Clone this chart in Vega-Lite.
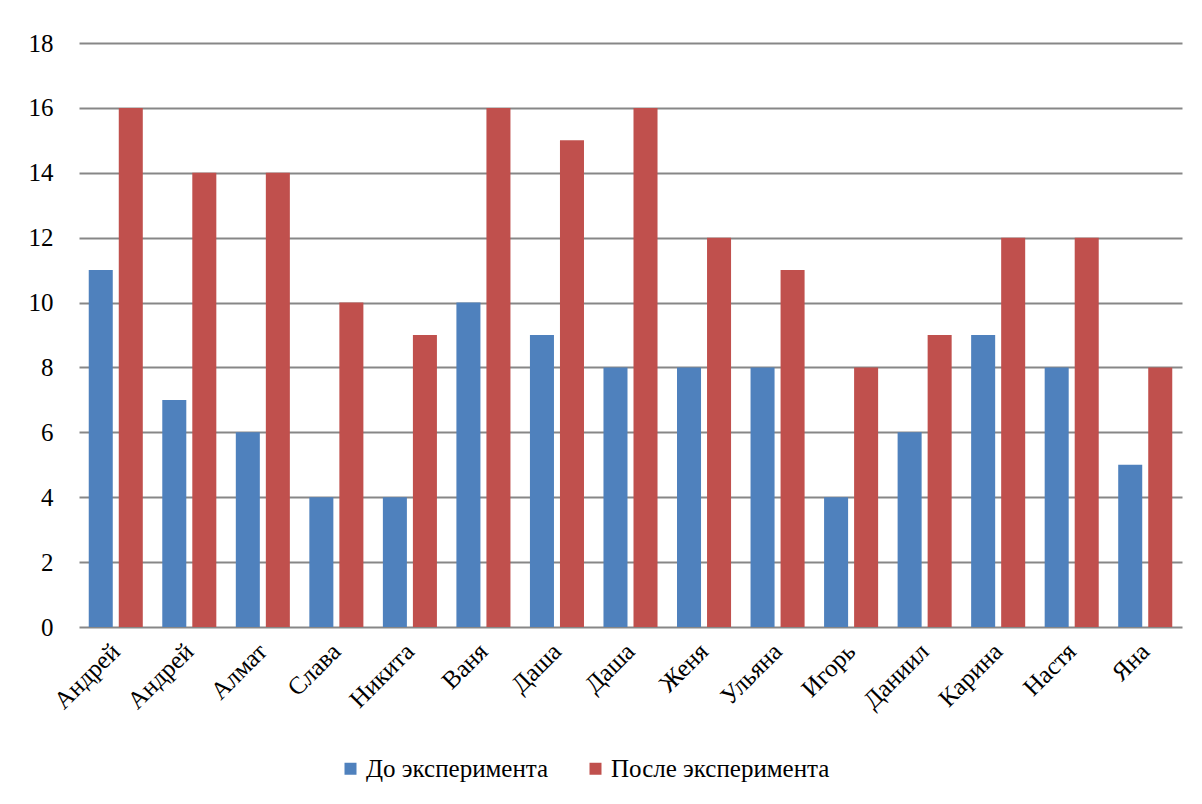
{
  "$schema": "https://vega.github.io/schema/vega-lite/v6.json",
  "autosize": "none",
  "width": 1103,
  "height": 584,
  "padding": {"left": 79, "top": 43, "right": 20, "bottom": 177},
  "background": "white",
  "config": {
    "view": {"stroke": null},
    "font": "Liberation Serif",
    "axis": {"labelFont": "Liberation Serif", "labelFontSize": 25},
    "legend": {"labelFont": "Liberation Serif", "labelFontSize": 25}
  },
  "data": {
    "values": [
      {"n": 1, "name": "Андрей", "series": "До эксперимента", "value": 11},
      {"n": 1, "name": "Андрей", "series": "После эксперимента", "value": 16},
      {"n": 2, "name": "Андрей", "series": "До эксперимента", "value": 7},
      {"n": 2, "name": "Андрей", "series": "После эксперимента", "value": 14},
      {"n": 3, "name": "Алмат", "series": "До эксперимента", "value": 6},
      {"n": 3, "name": "Алмат", "series": "После эксперимента", "value": 14},
      {"n": 4, "name": "Слава", "series": "До эксперимента", "value": 4},
      {"n": 4, "name": "Слава", "series": "После эксперимента", "value": 10},
      {"n": 5, "name": "Никита", "series": "До эксперимента", "value": 4},
      {"n": 5, "name": "Никита", "series": "После эксперимента", "value": 9},
      {"n": 6, "name": "Ваня", "series": "До эксперимента", "value": 10},
      {"n": 6, "name": "Ваня", "series": "После эксперимента", "value": 16},
      {"n": 7, "name": "Даша", "series": "До эксперимента", "value": 9},
      {"n": 7, "name": "Даша", "series": "После эксперимента", "value": 15},
      {"n": 8, "name": "Даша", "series": "До эксперимента", "value": 8},
      {"n": 8, "name": "Даша", "series": "После эксперимента", "value": 16},
      {"n": 9, "name": "Женя", "series": "До эксперимента", "value": 8},
      {"n": 9, "name": "Женя", "series": "После эксперимента", "value": 12},
      {"n": 10, "name": "Ульяна", "series": "До эксперимента", "value": 8},
      {"n": 10, "name": "Ульяна", "series": "После эксперимента", "value": 11},
      {"n": 11, "name": "Игорь", "series": "До эксперимента", "value": 4},
      {"n": 11, "name": "Игорь", "series": "После эксперимента", "value": 8},
      {"n": 12, "name": "Даниил", "series": "До эксперимента", "value": 6},
      {"n": 12, "name": "Даниил", "series": "После эксперимента", "value": 9},
      {"n": 13, "name": "Карина", "series": "До эксперимента", "value": 9},
      {"n": 13, "name": "Карина", "series": "После эксперимента", "value": 12},
      {"n": 14, "name": "Настя", "series": "До эксперимента", "value": 8},
      {"n": 14, "name": "Настя", "series": "После эксперимента", "value": 12},
      {"n": 15, "name": "Яна", "series": "До эксперимента", "value": 5},
      {"n": 15, "name": "Яна", "series": "После эксперимента", "value": 8}
    ]
  },
  "mark": {"type": "bar"},
  "encoding": {
    "x": {
      "field": "n",
      "type": "ordinal",
      "scale": {"paddingInner": 0.265, "paddingOuter": 0.1325},
      "axis": {
        "title": null,
        "labelExpr": "['Андрей','Андрей','Алмат','Слава','Никита','Ваня','Даша','Даша','Женя','Ульяна','Игорь','Даниил','Карина','Настя','Яна'][datum.value - 1]",
        "labelAngle": -45,
        "labelAlign": "right",
        "labelBaseline": "middle",
        "labelColor": "black",
        "labelPadding": 20,
        "labelOverlap": false,
        "ticks": false,
        "domain": false
      }
    },
    "xOffset": {
      "field": "series",
      "type": "nominal",
      "scale": {"paddingInner": 0.2, "paddingOuter": 0}
    },
    "y": {
      "field": "value",
      "type": "quantitative",
      "scale": {"domain": [0, 18], "nice": false},
      "axis": {
        "title": null,
        "values": [0, 2, 4, 6, 8, 10, 12, 14, 16, 18],
        "labelColor": "black",
        "labelPadding": 26,
        "ticks": false,
        "domain": false,
        "gridColor": "#878787",
        "gridWidth": 2,
        "gridOpacity": 1
      }
    },
    "color": {
      "field": "series",
      "type": "nominal",
      "scale": {"domain": ["До эксперимента", "После эксперимента"], "range": ["#4F81BD", "#C0504D"]},
      "legend": {
        "title": null,
        "orient": "none",
        "direction": "horizontal",
        "legendX": 259,
        "legendY": 713,
        "symbolType": "square",
        "symbolSize": 144,
        "symbolStrokeWidth": 0,
        "symbolOpacity": 1,
        "labelColor": "black",
        "labelOffset": 3,
        "columnPadding": 34,
        "labelLimit": 400
      }
    }
  }
}
